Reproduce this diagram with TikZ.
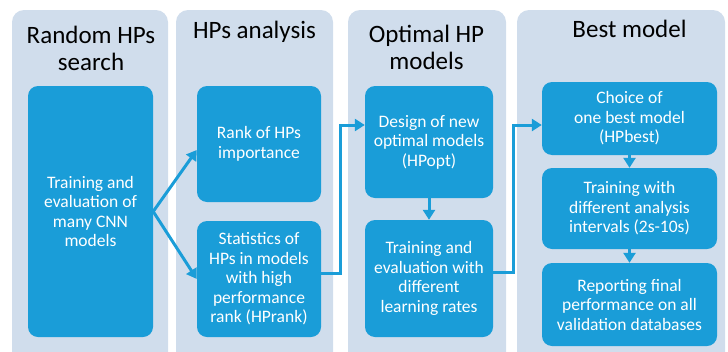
\documentclass[tikz,border=0pt]{standalone}
\usepackage{fontspec}
\setmainfont{Carlito}
\usepackage{tikz}
\usetikzlibrary{arrows.meta}
\definecolor{colbg}{HTML}{D0DDEC}
\definecolor{boxblue}{HTML}{1A9DD8}

\begin{document}
\begin{tikzpicture}[x=1pt,y=-1pt,
	title/.style={anchor=north,inner sep=0pt,align=center,font=\fontsize{25}{27}\selectfont},
	stage/.style={fill=boxblue,rounded corners=10pt,text=white,align=center,inner sep=0pt,font=\fontsize{17.5}{19.5}\selectfont},
	arr/.style={boxblue,line width=3pt,-{Triangle[length=10pt,width=12pt]}}]
\useasboundingbox (0,0) rectangle (728,351);

\foreach \l/\r in {12/168,176/333,348/506,517/725}{
	\fill[colbg,rounded corners=12pt] (\l,10) rectangle (\r,380);
}

\node[title] (t1) at (91,25.5) {Random HPs\\search};
\node[title] (t2) at (254.5,20.5) {HPs analysis};
\node[title] (t3) at (426.5,24.5) {Optimal HP\\models};
\node[title] (t4) at (629.5,19.5) {Best model};

\node[stage,minimum width=125pt,minimum height=251pt] (train) at (90.5,211.5) {Training and\\evaluation of\\many CNN\\models};
\node[stage,minimum width=124pt,minimum height=116pt] (rank) at (259,144) {Rank of HPs\\importance};
\node[stage,minimum width=124pt,minimum height=116pt] (stats) at (259,279) {Statistics of\\HPs in models\\with high\\performance\\rank (HPrank)};
\node[stage,minimum width=128pt,minimum height=112pt] (design) at (429,142) {Design of new\\optimal models\\(HPopt)};
\node[stage,minimum width=128pt,minimum height=117pt] (lrate) at (429,278.5) {Training and\\evaluation with\\different\\learning rates};
\node[stage,minimum width=175pt,minimum height=73pt] (choice) at (629.5,118.5) {Choice of\\one best model\\(HPbest)};
\node[stage,minimum width=175pt,minimum height=81pt] (interval) at (629.5,208.5) {Training with\\different analysis\\intervals (2s-10s)};
\node[stage,minimum width=175pt,minimum height=83pt] (report) at (629.5,304.5) {Reporting final\\performance on all\\validation databases};

\coordinate (bend1) at (340,125);
\coordinate (bend2) at (513,125);

\draw[arr] (train.east) -- ([yshift=-6pt]rank.west);
\draw[arr] (train.east) -- (stats.west);
\draw[arr] ([yshift=6pt]stats.east) -| (bend1) -- (design.west |- bend1);
\draw[arr] (design.south) -- (lrate.north);
\draw[arr] ([yshift=6pt]lrate.east) -| (bend2) -- (choice.west |- bend2);
\draw[arr] (choice.south) -- (interval.north);
\draw[arr] (interval.south) -- (report.north);

\end{tikzpicture}
\end{document}
